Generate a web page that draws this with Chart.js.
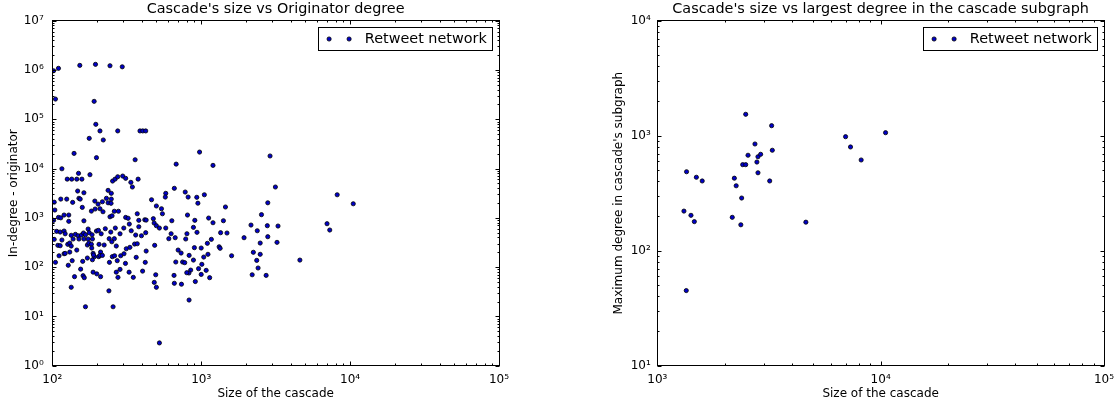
<!DOCTYPE html>
<html>
<head>
<meta charset="utf-8">
<script src="https://cdn.jsdelivr.net/npm/chart.js@4/dist/chart.umd.min.js"></script>
<style>
  html, body { margin: 0; padding: 0; background: #fff; }
  #wrap { position: relative; width: 1114px; height: 405px; overflow: hidden; }
  canvas { position: absolute; top: 0; }
  #left { left: 0; }
  #right { left: 557px; }
</style>
</head>
<body>
<div id="wrap">
  <canvas id="left" width="557" height="405"></canvas>
  <canvas id="right" width="590" height="405"></canvas>
</div>
<script>
// 左图: 级联大小 vs 发起者入度
const cascadeSize = [
  102, 110, 105, 153, 195, 244, 295, 191, 196, 209,
  275, 388, 405, 424, 177, 220, 140, 198, 360, 116,
  150, 179, 126, 135, 146, 158, 254, 264, 275, 297,
  311, 337, 345, 377, 148, 163, 237, 249, 114, 125,
  151, 154, 137, 193, 203, 217, 231, 237, 249, 248,
  103, 104, 159, 194, 209, 219, 183, 261, 278, 120,
  129, 244, 252, 110, 114, 102, 129, 163, 311, 323,
  372, 381, 418, 427, 464, 477, 483, 107, 113, 120,
  122, 134, 143, 149, 157, 162, 167, 174, 177, 185,
  198, 204, 213, 227, 265, 247, 302, 285, 329, 339,
  381, 363, 397, 424, 241, 261, 116, 103, 138, 151,
  163, 174, 186, 975, 679, 1200, 660, 578, 574, 781,
  817, 934, 1050, 950, 1455, 500, 541, 549, 809, 906,
  635, 1122, 1200, 1410, 2540, 500, 524, 578, 887, 628,
  802, 937, 1350, 1490, 2160, 2380, 606, 669, 787, 1170,
  1940, 109, 113, 127, 131, 134, 146, 172, 176, 183,
  184, 188, 206, 223, 269, 251, 314, 332, 357, 372,
  487, 427, 111, 120, 122, 131, 105, 128, 136, 160,
  172, 186, 192, 189, 205, 211, 209, 217, 242, 253,
  262, 273, 288, 303, 310, 366, 421, 141, 155, 161,
  164, 188, 199, 211, 269, 276, 285, 328, 350, 404,
  495, 484, 500, 134, 240, 167, 256, 900, 1000, 1100,
  1320, 1340, 1600, 700, 733, 830, 887, 1040, 1110, 675,
  750, 775, 1010, 960, 1080, 850, 827, 800, 1000, 1140,
  657, 660, 737, 913, 829, 524, 2240, 2490, 2490, 2360,
  2410, 2200, 2900, 3150, 2800, 8190, 10500, 2780, 3280, 7000,
  7300, 2800, 3230, 4600, 2730
];
const originatorDegree = [
  964000, 1080000, 257000, 1240000, 1300000, 1220000, 1160000, 231000, 79000, 58000,
  58000, 58000, 58000, 58000, 41000, 38000, 20300, 16600, 15100, 9900,
  8000, 7500, 6100, 6100, 6100, 6100, 5580, 6100, 6820, 7040,
  6330, 5250, 4220, 6100, 3500, 3230, 3610, 3140, 2400, 2400,
  2490, 2400, 2060, 2190, 1900, 2120, 2490, 2020, 2400, 1970,
  2080, 1440, 1630, 1510, 1530, 1330, 1370, 1360, 1360, 1140,
  1140, 1050, 1100, 1020, 1000, 890, 850, 870, 1020, 980,
  1210, 890, 915, 900, 2330, 960, 785, 532, 515, 540,
  475, 442, 462, 433, 448, 492, 454, 593, 499, 454,
  540, 557, 475, 601, 621, 515, 621, 475, 748, 547,
  660, 448, 433, 499, 377, 377, 355, 366, 372, 372,
  372, 372, 372, 21600, 12300, 11600, 3970, 3140, 2640, 3340,
  2640, 2610, 2940, 1980, 1660, 1740, 1530, 1210, 1140, 890,
  874, 990, 796, 874, 1160, 692, 621, 621, 641, 476,
  476, 508, 499, 492, 714, 547, 377, 395, 372, 366,
  395, 277, 272, 290, 308, 268, 222, 281, 308, 290,
  244, 190, 290, 281, 268, 327, 236, 252, 294, 298,
  277, 212, 170, 187, 190, 202, 125, 109, 135, 131,
  153, 141, 163, 176, 163, 202, 173, 173, 125, 163,
  170, 135, 170, 187, 119, 158, 125, 64, 91, 67,
  61, 79, 73, 64, 79, 62, 90, 79, 62, 83,
  70, 49, 39, 39, 33, 15.7, 15.7, 248, 244, 304,
  259, 241, 170, 222, 193, 173, 139, 160, 182, 127,
  127, 123, 114, 93, 86, 87, 76, 77, 71, 61,
  68, 47, 45, 51, 21.5, 2.9, 200, 182, 308, 137,
  96, 70, 18000, 4220, 2020, 2940, 1930, 692, 682, 760,
  566, 414, 318, 139, 68
];

// 右图: 级联大小 vs 子图最大度
const subgraphCascadeSize = [
  1352, 1496, 1589, 2213, 2255, 2386, 2412, 2488, 2488, 2548,
  2737, 2792, 2823, 2823, 2902, 3186, 3250, 3273, 6966, 7330,
  8180, 10520, 1316, 1415, 1465, 2166, 2366, 4626, 1348
];
const subgraphMaxDegree = [
  486, 435, 404, 427, 367, 287, 560, 560, 1535, 676,
  847, 590, 656, 476, 689, 404, 1222, 747, 980, 798,
  615, 1062, 221, 203, 179, 195, 168, 177, 45
];

// 主刻度
const leftXTicks = [1e2, 1e3, 1e4, 1e5];
const leftYTicks = [1e0, 1e1, 1e2, 1e3, 1e4, 1e5, 1e6, 1e7];
const rightXTicks = [1e3, 1e4, 1e5];
const rightYTicks = [1e1, 1e2, 1e3, 1e4];

const seriesLabel = 'Retweet network';
const FONT = 'DejaVu Sans';

Chart.defaults.font.family = FONT;
Chart.defaults.color = '#000';

const SUP = {'0': '\u2070', '1': '\u00b9', '2': '\u00b2', '3': '\u00b3', '4': '\u2074',
             '5': '\u2075', '6': '\u2076', '7': '\u2077', '8': '\u2078', '9': '\u2079'};
function powLabel(v) {
    const e = String(Math.round(Math.log10(v)));
    return '10' + e.split('').map(c => SUP[c]).join('');
}

// 主刻度 + 次刻度 (2..9)
function tickMarks(majors) {
    const out = [];
    majors.forEach((m, i) => {
        out.push([m, 4]);
        if (i < majors.length - 1) {
            for (let k = 2; k <= 9; k++) out.push([m * k, 2]);
        }
    });
    return out;
}

// 边框和向内刻度
const axisFrame = {
    id: 'axisFrame',
    afterDatasetsDraw(chart, args, opts) {
        const {ctx, chartArea: a} = chart;
        const xs = chart.scales.x, ys = chart.scales.y;
        const l = Math.floor(a.left) + 0.5, r = Math.floor(a.right) + 0.5;
        const t = Math.floor(a.top) + 0.5, b = Math.floor(a.bottom) + 0.5;
        ctx.save();
        ctx.strokeStyle = '#000';
        ctx.lineWidth = 1;
        ctx.beginPath();
        for (const [v, len] of tickMarks(opts.xTicks)) {
            const px = Math.round(xs.getPixelForValue(v)) + 0.5;
            ctx.moveTo(px, b); ctx.lineTo(px, b - len);
            ctx.moveTo(px, t); ctx.lineTo(px, t + len);
        }
        for (const [v, len] of tickMarks(opts.yTicks)) {
            const py = Math.round(ys.getPixelForValue(v)) + 0.5;
            ctx.moveTo(l, py); ctx.lineTo(l + len, py);
            ctx.moveTo(r, py); ctx.lineTo(r - len, py);
        }
        ctx.stroke();
        ctx.strokeRect(l, t, r - l, b - t);
        ctx.restore();
    }
};

// 右上角图例框
const boxLegend = {
    id: 'boxLegend',
    afterDraw(chart) {
        const {ctx, chartArea: a} = chart;
        const ds = chart.data.datasets[0];
        const w = 174, h = 23;
        const x0 = Math.floor(a.right - 7 - w) + 0.5;
        const y0 = Math.floor(a.top + 6.5) + 0.5;
        const cy = y0 + h / 2;
        ctx.save();
        ctx.fillStyle = '#fff';
        ctx.strokeStyle = '#000';
        ctx.lineWidth = 1;
        ctx.fillRect(x0, y0, w, h);
        ctx.strokeRect(x0, y0, w, h);
        for (const dx of [10.6, 30.6]) {
            ctx.beginPath();
            ctx.arc(x0 + dx, cy, ds.pointRadius, 0, Math.PI * 2);
            ctx.fillStyle = ds.backgroundColor;
            ctx.fill();
            ctx.lineWidth = ds.borderWidth;
            ctx.strokeStyle = ds.borderColor;
            ctx.stroke();
        }
        ctx.fillStyle = '#000';
        ctx.font = '14.4px "' + FONT + '"';
        ctx.textBaseline = 'middle';
        ctx.textAlign = 'left';
        ctx.fillText(ds.label, x0 + 46.3, cy + 0.5);
        ctx.restore();
    }
};

function makeChart(id, xs, ys, o) {
    return new Chart(document.getElementById(id), {
        type: 'scatter',
        data: {
            datasets: [{
                label: seriesLabel,
                data: xs.map((v, i) => ({x: v, y: ys[i]})),
                backgroundColor: '#0000c8',
                borderColor: '#000',
                borderWidth: 0.8,
                pointRadius: 2.1
            }]
        },
        options: {
            responsive: false,
            animation: false,
            events: [],
            layout: { padding: { left: 0, right: o.padRight, top: 0, bottom: 0 } },
            plugins: {
                legend: { display: false },
                tooltip: { enabled: false },
                title: {
                    display: true,
                    text: o.title,
                    fullSize: false,
                    color: '#000',
                    font: { size: 14.4, weight: 'normal' },
                    padding: { top: 1, bottom: 2.42 }
                },
                axisFrame: { xTicks: o.xTicks, yTicks: o.yTicks }
            },
            scales: {
                x: {
                    type: 'logarithmic',
                    min: o.xTicks[0],
                    max: o.xTicks[o.xTicks.length - 1],
                    afterBuildTicks: s => { s.ticks = o.xTicks.map(v => ({value: v})); },
                    afterFit: s => { s.height = 39.3; },
                    grid: { display: false, drawTicks: false },
                    border: { display: false },
                    ticks: { callback: powLabel, autoSkip: false, maxRotation: 0, padding: 7,
                             font: { size: 12 }, color: '#000' },
                    title: { display: true, text: 'Size of the cascade', color: '#000',
                             font: { size: 12 }, padding: { top: 0, bottom: 3.8 } }
                },
                y: {
                    type: 'logarithmic',
                    min: o.yTicks[0],
                    max: o.yTicks[o.yTicks.length - 1],
                    afterBuildTicks: s => { s.ticks = o.yTicks.map(v => ({value: v})); },
                    afterFit: s => { s.width = o.yWidth; },
                    grid: { display: false, drawTicks: false },
                    border: { display: false },
                    ticks: { callback: powLabel, autoSkip: false, padding: o.yPad,
                             font: { size: 12 }, color: '#000' },
                    title: { display: true, text: o.yTitle, color: '#000',
                             font: { size: 12 }, padding: { top: o.yTitlePad, bottom: 0 } }
                }
            }
        },
        plugins: [axisFrame, boxLegend]
    });
}

window.onload = function() {
    makeChart('left', cascadeSize, originatorDegree, {
        title: "Cascade's size vs Originator degree",
        yTitle: 'In-degree - originator',
        xTicks: leftXTicks, yTicks: leftYTicks,
        yWidth: 52.3, yTitlePad: 6.8, yPad: 8.5, padRight: 58
    });
    makeChart('right', subgraphCascadeSize, subgraphMaxDegree, {
        title: "Cascade's size vs largest degree in the cascade subgraph",
        yTitle: "Maximum degree in cascade's subgraph",
        xTicks: rightXTicks, yTicks: rightYTicks,
        yWidth: 100.3, yTitlePad: 54.5, yPad: 6.5, padRight: 43
    });
};
</script>
</body>
</html>
